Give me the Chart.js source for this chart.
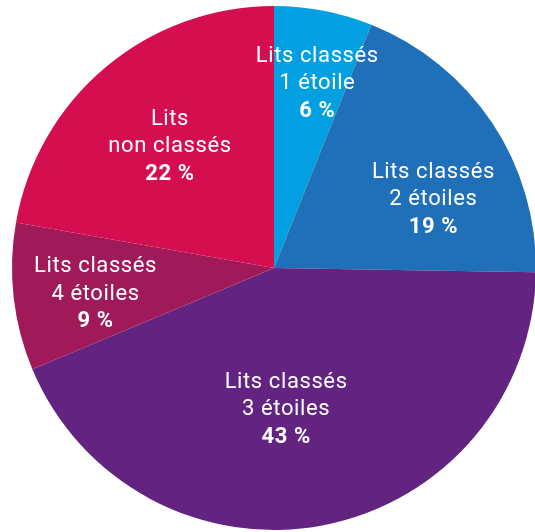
<!DOCTYPE html>
<html>
<head>
<meta charset="utf-8">
<script src="https://cdn.jsdelivr.net/npm/chart.js@4"></script>
<style>
  html, body { margin: 0; padding: 0; background: #fff; overflow: hidden; }
  #wrap { position: relative; width: 548px; height: 536px; }
</style>
</head>
<body>
<div id="wrap"><canvas id="pie"></canvas></div>
<script>
/* ---------------------------
    DATA
------------------------------ */
const categories = ["Lits classés\n1 étoile", "Lits classés\n2 étoiles", "Lits classés\n3 étoiles", "Lits classés\n4 étoiles", "Lits\nnon classés"];
const shares = [6, 19, 43, 9, 22];
const colors = ["#03a0e1", "#1f70b8", "#632380", "#a01a5a", "#d50e50"];

// label placement: fraction of radius, angle shift in degrees (layout only)
const labelRadius = [0.702, 0.654, 0.563, 0.692, 0.594];
const labelShift = [2.7, 12.1, 6.2, -3.8, -1.95];

/* ---------------------------
    LABELS PLUGIN
------------------------------ */
const sliceLabels = {
    id: "sliceLabels",
    afterDatasetsDraw(chart) {
        const ctx = chart.ctx;
        const meta = chart.getDatasetMeta(0);
        ctx.save();
        ctx.fillStyle = "#fff";
        ctx.textAlign = "center";
        ctx.textBaseline = "alphabetic";
        ctx.letterSpacing = "0.6px";
        meta.data.forEach((arc, i) => {
            const p = arc.getProps(["x", "y", "startAngle", "endAngle", "outerRadius"], true);
            const a = (p.startAngle + p.endAngle) / 2 + labelShift[i] * Math.PI / 180;
            const r = p.outerRadius * labelRadius[i];
            const cx = p.x + Math.cos(a) * r;
            const cy = p.y + Math.sin(a) * r;
            const lines = categories[i].split("\n");
            const lh = 27.5;
            ctx.font = "22px Roboto";
            ctx.fillText(lines[0], cx, cy - lh);
            ctx.fillText(lines[1], cx, cy);
            ctx.font = "bold 22px Roboto";
            ctx.fillText(shares[i] + " %", cx, cy + lh);
        });
        ctx.restore();
    }
};

new Chart(document.getElementById("pie"), {
    type: "pie",
    data: {
        labels: categories,
        datasets: [{
            data: shares,
            backgroundColor: colors,
            borderWidth: 0
        }]
    },
    options: {
        responsive: true,
        maintainAspectRatio: false,
        animation: false,
        layout: { padding: 6 },
        plugins: {
            legend: { display: false },
            tooltip: { enabled: false }
        }
    },
    plugins: [sliceLabels]
});
</script>
</body>
</html>
